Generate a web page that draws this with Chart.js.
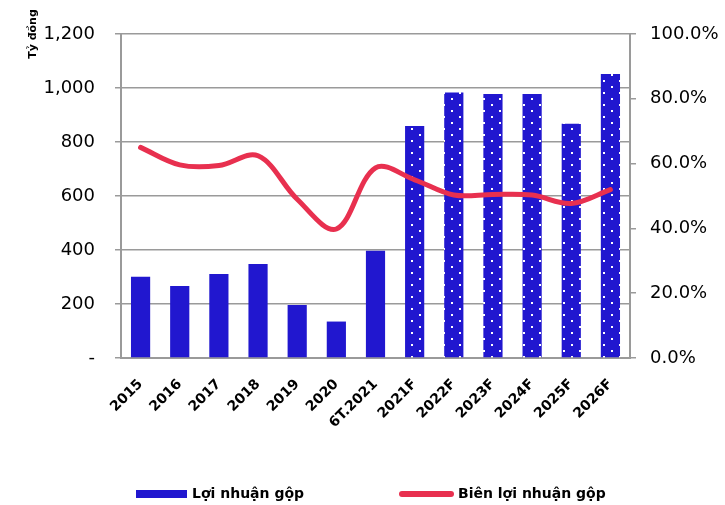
<!DOCTYPE html>
<html>
<head>
<meta charset="utf-8">
<script src="https://cdn.jsdelivr.net/npm/chart.js@4.4.1/dist/chart.umd.min.js"></script>
<style>
  html, body { margin: 0; padding: 0; background: #fff; }
  #wrap { width: 725px; height: 505px; }
</style>
</head>
<body>
<div id="wrap"><canvas id="profitChart" width="725" height="505"></canvas></div>
<script>
const categories = ['2015', '2016', '2017', '2018', '2019', '2020', '6T.2021', '2021F', '2022F', '2023F', '2024F', '2025F', '2026F'];
const grossProfit = [301, 267, 311, 348, 196, 135, 397, 859, 983, 978, 978, 868, 1052];
const grossMargin = [65.0, 59.6, 59.4, 62.4, 49.0, 39.8, 58.7, 55.0, 50.3, 50.5, 50.3, 47.7, 52.0];
const forecastFlags = [false, false, false, false, false, false, false, true, true, true, true, true, true];
const leftTicks = [0, 200, 400, 600, 800, 1000, 1200];
const rightTicks = [0, 20, 40, 60, 80, 100];

const barLabel = 'Lợi nhuận gộp';
const lineLabel = 'Biên lợi nhuận gộp';
const yTitle = 'Tỷ đồng';

const BLUE = '#2117cf';
const RED = '#e8304f';
const GRID = '#9a9a9a';
const FONT = "'DejaVu Sans', 'Liberation Sans', sans-serif";

// dotted fill for forecast bars
function makeDots() {
    const c = document.createElement('canvas');
    c.width = 16;
    c.height = 12;
    const g = c.getContext('2d');
    g.fillStyle = BLUE;
    g.fillRect(0, 0, 16, 12);
    g.fillStyle = '#ffffff';
    g.fillRect(3, 2, 2, 2);
    g.fillRect(11, 8, 2, 2);
    return g.createPattern(c, 'repeat');
}

const ctx = document.getElementById('profitChart').getContext('2d');
const dots = makeDots();
const barColors = forecastFlags.map(f => f ? dots : BLUE);

// legend + axis title drawn by hand
const extras = {
    id: 'extras',
    afterDraw(chart) {
        const c = chart.ctx;
        c.save();
        // y axis title
        c.translate(33, 34);
        c.rotate(-Math.PI / 2);
        c.font = 'bold 11px ' + FONT;
        c.fillStyle = '#000';
        c.textAlign = 'center';
        c.textBaseline = 'middle';
        c.fillText(yTitle, 0, 0);
        c.restore();

        c.save();
        c.font = 'bold 14px ' + FONT;
        c.fillStyle = '#000';
        c.textBaseline = 'middle';
        const ly = 494;
        c.fillStyle = BLUE;
        c.fillRect(136, 490, 51, 8);
        c.fillStyle = '#000';
        c.fillText(barLabel, 192, ly);
        c.strokeStyle = RED;
        c.lineWidth = 6;
        c.lineCap = 'round';
        c.beginPath();
        c.moveTo(402, ly);
        c.lineTo(451, ly);
        c.stroke();
        c.fillText(lineLabel, 458, ly);
        c.restore();
    }
};

new Chart(ctx, {
    type: 'bar',
    data: {
        labels: categories,
        datasets: [{
            label: barLabel,
            data: grossProfit,
            backgroundColor: barColors,
            barPercentage: 0.49,
            categoryPercentage: 1,
            yAxisID: 'y',
            order: 2
        }, {
            type: 'line',
            label: lineLabel,
            data: grossMargin,
            borderColor: RED,
            borderWidth: 5,
            borderCapStyle: 'round',
            pointRadius: 0,
            tension: 0.35,
            fill: false,
            yAxisID: 'y1',
            order: 1
        }]
    },
    options: {
        responsive: false,
        animation: false,
        layout: { padding: { top: 34, left: 0, right: 0, bottom: 0 } },
        plugins: {
            legend: { display: false },
            tooltip: { enabled: false }
        },
        scales: {
            x: {
                grid: { display: false },
                border: { display: true, color: GRID, width: 2 },
                ticks: {
                    minRotation: 45,
                    maxRotation: 45,
                    padding: 10,
                    color: '#000',
                    font: { family: FONT, size: 14, weight: 'bold' }
                },
                afterFit(scale) { scale.height = 147; }
            },
            y: {
                position: 'left',
                min: 0,
                max: 1200,
                afterBuildTicks(scale) { scale.ticks = leftTicks.map(v => ({ value: v })); },
                grid: { color: GRID, lineWidth: 1.5, tickLength: 6 },
                border: { display: true, color: GRID, width: 2 },
                ticks: {
                    padding: 20,
                    color: '#000',
                    font: { family: FONT, size: 18 },
                    callback: v => v === 0 ? '-' : v.toLocaleString('en-US')
                },
                afterFit(scale) { scale.width = 121; }
            },
            y1: {
                position: 'right',
                min: 0,
                max: 100,
                afterBuildTicks(scale) { scale.ticks = rightTicks.map(v => ({ value: v })); },
                grid: { drawOnChartArea: false, color: GRID, lineWidth: 1.5, tickLength: 6 },
                border: { display: true, color: GRID, width: 2 },
                ticks: {
                    padding: 14,
                    color: '#000',
                    font: { family: FONT, size: 18 },
                    callback: v => v.toFixed(1) + '%'
                },
                afterFit(scale) { scale.width = 95; }
            }
        }
    },
    plugins: [extras]
});
</script>
</body>
</html>
